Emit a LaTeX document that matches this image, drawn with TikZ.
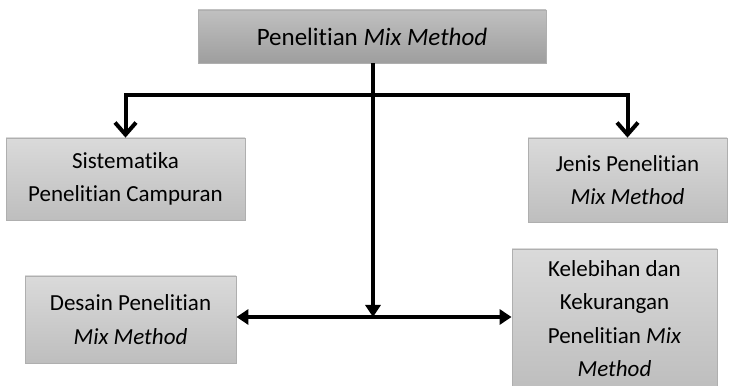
\documentclass[tikz,border=0pt]{standalone}
\usepackage{fontspec}
\setmainfont{Carlito}[RawFeature=-liga]
\usetikzlibrary{arrows.meta}

\definecolor{headTop}{RGB}{192,192,192}
\definecolor{headBot}{RGB}{158,158,158}
\definecolor{boxTop}{RGB}{218,218,218}
\definecolor{boxBot}{RGB}{190,190,190}
\definecolor{edgeGray}{RGB}{175,175,175}

\tikzset{
  x=1pt, y=1pt,
  headbox/.style={draw=edgeGray, line width=0.8pt, top color=headTop, bottom color=headBot,
    minimum width=348, minimum height=53, inner sep=0pt,
    font=\fontsize{25}{30}\selectfont},
  topicbox/.style={draw=edgeGray, line width=0.8pt, top color=boxTop, bottom color=boxBot,
    inner sep=0pt, align=center, font=\fontsize{23}{33.5}\selectfont},
  branch/.style={line width=4pt, {Straight Barb[length=12pt,width=21pt]}-{Straight Barb[length=12pt,width=21pt]}},
  trunk/.style={line width=4pt, -{Triangle[length=12pt,width=15pt]}},
  spread/.style={line width=4pt, {Triangle[length=12pt,width=15pt]}-{Triangle[length=12pt,width=15pt]}},
}

\begin{document}
\begin{tikzpicture}
\useasboundingbox (0,0) rectangle (732,386);

% boxes
\node[headbox] (head) at (372,349.5) {Penelitian \textit{Mix Method}};
\node[topicbox, minimum width=239, minimum height=82] (sis) at (125.5,207) {Sistematika\\Penelitian Campuran};
\node[topicbox, minimum width=199, minimum height=84] (jen) at (627.5,206) {Jenis Penelitian\\\textit{Mix Method}};
\node[topicbox, minimum width=211, minimum height=87] (des) at (130.5,66.5) {Desain Penelitian\\\textit{Mix Method}};
\node[topicbox, minimum width=205, minimum height=139] (kel) at (614.5,67.5) {Kelebihan dan\\Kekurangan\\Penelitian \textit{Mix}\\\textit{Method}};

% junction points
\coordinate (upper) at (373,291);
\coordinate (lower) at (373,69);

% connectors
\draw[branch] (sis.north) |- (upper) -| (jen.north);
\draw[trunk] (head.south -| lower) -- (lower);
\draw[spread] (des.east |- lower) -- (kel.west |- lower);
\end{tikzpicture}
\end{document}
